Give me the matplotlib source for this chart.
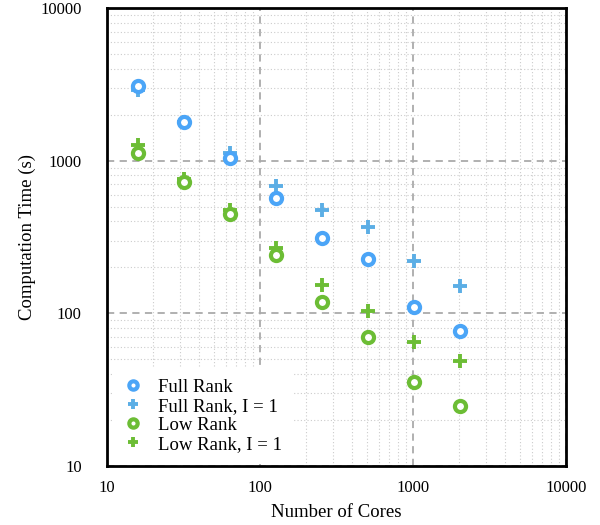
import matplotlib
matplotlib.use("Agg")
import matplotlib.pyplot as plt
from matplotlib.ticker import LogLocator, FixedLocator, FixedFormatter

plt.rcParams['font.family'] = ['Liberation Serif', 'DejaVu Serif']

cores = [16, 32, 64, 128, 256, 512, 1024, 2048]
full_rank = [3100, 1790, 1040, 570, 312, 227, 110, 77]
full_rank_i1 = [2900, 1800, 1120, 682, 476, 368, 220, 151]
low_rank = [1120, 726, 448, 241, 119, 70, 35.6, 24.8]
low_rank_i1 = [1268, 760, 475, 268, 153, 104, 65, 48.8]

blue = '#4ba5f7'
blue_plus = '#5caee5'
green = '#6cbd35'

fig = plt.figure(figsize=(6, 5.25), dpi=100)
ax = fig.add_axes([0.178, 0.112, 0.765, 0.873])

# pluses first, open circles (white inside) on top of them
ax.plot(cores, full_rank_i1, '+', ms=10, mec=blue_plus, mew=2.8, label='Full Rank, I = 1', zorder=3)
ax.plot(cores, low_rank_i1, '+', ms=10, mec=green, mew=2.8, label='Low Rank, I = 1', zorder=3)
ax.plot(cores, full_rank, 'o', ms=8, mfc='white', mec=blue, mew=3, label='Full Rank', zorder=4)
ax.plot(cores, low_rank, 'o', ms=8, mfc='white', mec=green, mew=3, label='Low Rank', zorder=4)

ax.set_xscale('log')
ax.set_yscale('log')
ax.set_xlim(10, 10000)
ax.set_ylim(10, 10000)

ticks = [10, 100, 1000, 10000]
ax.xaxis.set_major_locator(FixedLocator(ticks))
ax.yaxis.set_major_locator(FixedLocator(ticks))
ax.xaxis.set_major_formatter(FixedFormatter([str(t) for t in ticks]))
ax.yaxis.set_major_formatter(FixedFormatter([str(t) for t in ticks]))
ax.xaxis.set_minor_locator(LogLocator(base=10, subs=range(2, 10)))
ax.yaxis.set_minor_locator(LogLocator(base=10, subs=range(2, 10)))

ax.grid(which='major', ls=(0, (4, 3)), color='#aaaaaa', lw=1.3)
ax.grid(which='minor', ls=(0, (1, 2)), color='#cccccc', lw=0.8)
ax.set_axisbelow(True)

ax.tick_params(which='both', length=0, labelsize=12)
ax.tick_params(axis='x', pad=10)
ax.tick_params(axis='y', pad=18)

for s in ax.spines.values():
    s.set_linewidth(2)
    s.set_color('black')

ax.set_xlabel('Number of Cores', fontsize=13.5, labelpad=6)
ax.set_ylabel('Computation Time (s)', fontsize=13.5, labelpad=3)

handles, labels = ax.get_legend_handles_labels()
order = [2, 0, 3, 1]
leg = ax.legend([handles[i] for i in order], [labels[i] for i in order],
                loc='lower left', bbox_to_anchor=(0.013, 0.005), borderaxespad=0,
                fontsize=13.5, markerscale=0.75,
                frameon=True, edgecolor='none', facecolor='white', framealpha=1,
                fancybox=False, handlelength=1.0, handletextpad=0.83,
                labelspacing=0.1, borderpad=0.6)
leg.set_zorder(5)

fig.savefig('out.png', dpi=100)
